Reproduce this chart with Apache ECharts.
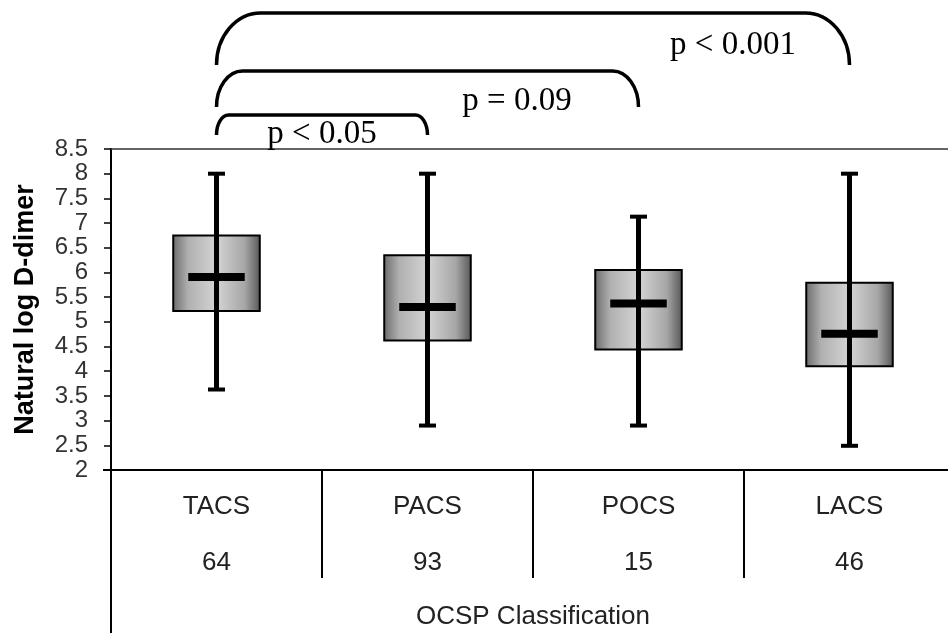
<!DOCTYPE html>
<html>
<head>
<meta charset="utf-8">
<script src="https://cdn.jsdelivr.net/npm/echarts@6/dist/echarts.min.js"></script>
<style>
html,body{margin:0;padding:0;background:#fff;}
#chart{width:948px;height:633px;}
</style>
</head>
<body>
<div id="chart"></div>
<script>
// ---- data ----
const categories = ['TACS', 'PACS', 'POCS', 'LACS'];
const counts = [64, 93, 15, 46];
const whiskerLow = [3.63, 2.90, 2.90, 2.49];
const quartile1 = [5.22, 4.62, 4.44, 4.10];
const medians = [5.91, 5.30, 5.37, 4.76];
const quartile3 = [6.75, 6.35, 6.05, 5.79];
const whiskerHigh = [8.00, 8.00, 7.13, 8.00];
const yMin = 2, yMax = 8.5, yStep = 0.5;
const compareFrom = ['TACS', 'TACS', 'TACS'];
const compareTo = ['PACS', 'POCS', 'LACS'];
const pLabels = ['p < 0.05', 'p = 0.09', 'p < 0.001'];

// ---- layout / style constants ----
const GRID_LEFT = 111, GRID_TOP = 149, GRID_W = 844, GRID_H = 321;
const bracketTop = [-34, -78, -136];     // px above grid top
const bracketEnd = [-14, -42, -84];
const bracketRx = [12, 26, 44];
const labelDy = [-14.5, -47.5, -104];
const labelDx = [0, -16, -11];

const boxData = categories.map((c, i) =>
  [i, whiskerLow[i], quartile1[i], medians[i], quartile3[i], whiskerHigh[i]]);
const bracketData = compareFrom.map((f, i) =>
  [categories.indexOf(f), categories.indexOf(compareTo[i]), i]);

const boxFill = new echarts.graphic.LinearGradient(0, 0, 1, 0, [
  {offset: 0, color: '#6a6a6a'},
  {offset: 0.18, color: '#b0b0b0'},
  {offset: 0.5, color: '#d4d4d4'},
  {offset: 0.82, color: '#a6a6a6'},
  {offset: 1, color: '#555555'}
]);

function renderBox(params, api) {
  const x = api.value(0);
  const pLow = api.coord([x, api.value(1)]);
  const pQ1 = api.coord([x, api.value(2)]);
  const pMed = api.coord([x, api.value(3)]);
  const pQ3 = api.coord([x, api.value(4)]);
  const pHigh = api.coord([x, api.value(5)]);
  const band = api.size([1, 0])[0];
  const bw = band * 0.41;
  const cx = pMed[0];
  const capW = 17;
  const medInset = 15;
  return {
    type: 'group',
    children: [
      {type: 'rect', shape: {x: cx - bw / 2, y: pQ3[1], width: bw, height: pQ1[1] - pQ3[1]},
       style: {fill: boxFill, stroke: '#000', lineWidth: 2}},
      {type: 'line', shape: {x1: cx, y1: pHigh[1], x2: cx, y2: pLow[1]},
       style: {stroke: '#000', lineWidth: 5}},
      {type: 'line', shape: {x1: cx - capW / 2, y1: pHigh[1], x2: cx + capW / 2, y2: pHigh[1]},
       style: {stroke: '#000', lineWidth: 4}},
      {type: 'line', shape: {x1: cx - capW / 2, y1: pLow[1], x2: cx + capW / 2, y2: pLow[1]},
       style: {stroke: '#000', lineWidth: 4}},
      {type: 'line', shape: {x1: cx - bw / 2 + medInset, y1: pMed[1], x2: cx + bw / 2 - medInset, y2: pMed[1]},
       style: {stroke: '#000', lineWidth: 8}}
    ]
  };
}

function renderBracket(params, api) {
  const from = api.value(0), to = api.value(1), lvl = api.value(2);
  const gy = params.coordSys.y;
  const x1 = api.coord([from, yMin])[0];
  const x2 = api.coord([to, yMin])[0];
  const xm = (api.coord([to - 1, yMin])[0] + x2) / 2 + labelDx[lvl];
  const yt = gy + bracketTop[lvl];
  const yb = gy + bracketEnd[lvl];
  const rx = bracketRx[lvl];
  const ry = yb - yt;
  const k = 0.552;
  const d = `M${x1},${yb} C${x1},${yb - k * ry} ${x1 + rx - k * rx},${yt} ${x1 + rx},${yt} ` +
            `L${x2 - rx},${yt} C${x2 - rx + k * rx},${yt} ${x2},${yb - k * ry} ${x2},${yb}`;
  return {
    type: 'group',
    children: [
      {type: 'path', shape: {pathData: d}, style: {fill: 'none', stroke: '#000', lineWidth: 3.5}},
      {type: 'text', style: {text: pLabels[lvl], x: xm, y: gy + labelDy[lvl], align: 'center',
        verticalAlign: 'middle', fontSize: 33, fontFamily: 'Liberation Serif', fill: '#000'}}
    ]
  };
}

const chart = echarts.init(document.getElementById('chart'), null, {renderer: 'canvas'});
chart.setOption({
  backgroundColor: '#fff',
  animation: false,
  grid: {left: GRID_LEFT, top: GRID_TOP, width: GRID_W, height: GRID_H, containLabel: false,
         outerBoundsMode: 'none'},
  xAxis: [{
    type: 'category',
    data: categories,
    boundaryGap: true,
    position: 'bottom',
    axisLine: {show: true, lineStyle: {color: '#000', width: 2}},
    axisTick: {show: true, interval: 0, length: 108, alignWithLabel: false, lineStyle: {color: '#000', width: 2}},
    axisLabel: {
      interval: 0, margin: 9,
      formatter: (v, i) => `{a|${v}}\n{b|${counts[i]}}`,
      rich: {
        a: {fontSize: 26, lineHeight: 56, fontFamily: 'Liberation Sans', color: '#222'},
        b: {fontSize: 26, lineHeight: 56, fontFamily: 'Liberation Sans', color: '#222'}
      }
    },
    name: 'OCSP Classification',
    nameLocation: 'middle',
    nameGap: 134,
    nameTextStyle: {fontSize: 26, fontFamily: 'Liberation Sans', color: '#222'},
    splitLine: {show: false}
  }, {
    type: 'category',
    data: categories,
    position: 'top',
    axisLine: {show: true, lineStyle: {color: '#333', width: 1.5}},
    axisTick: {show: false},
    axisLabel: {show: false},
    splitLine: {show: false}
  }],
  yAxis: {
    type: 'value',
    min: yMin, max: yMax, interval: yStep,
    axisLine: {show: true, lineStyle: {color: '#000', width: 2}},
    axisTick: {show: true, length: 7, lineStyle: {color: '#000', width: 1.5}},
    axisLabel: {fontSize: 24, fontFamily: 'Liberation Sans', color: '#333', margin: 23},
    splitLine: {show: false},
    name: 'Natural log D-dimer',
    nameLocation: 'middle',
    nameGap: 72,
    nameTextStyle: {fontSize: 27, fontWeight: 'bold', fontFamily: 'Liberation Sans', color: '#000'}
  },
  series: [{
    type: 'custom',
    name: 'box',
    renderItem: renderBox,
    encode: {x: 0, y: [1, 2, 3, 4, 5]},
    data: boxData,
    clip: false,
    z: 3
  }, {
    type: 'custom',
    name: 'brackets',
    renderItem: renderBracket,
    encode: {x: [0, 1]},
    data: bracketData,
    clip: false,
    z: 4
  }],
  graphic: [
    {type: 'line', shape: {x1: GRID_LEFT, y1: GRID_TOP + GRID_H, x2: GRID_LEFT, y2: 633},
     style: {stroke: '#000', lineWidth: 2}},
    {type: 'line', shape: {x1: GRID_LEFT - 8, y1: GRID_TOP + GRID_H, x2: GRID_LEFT, y2: GRID_TOP + GRID_H},
     style: {stroke: '#000', lineWidth: 2}}
  ]
});
</script>
</body>
</html>
